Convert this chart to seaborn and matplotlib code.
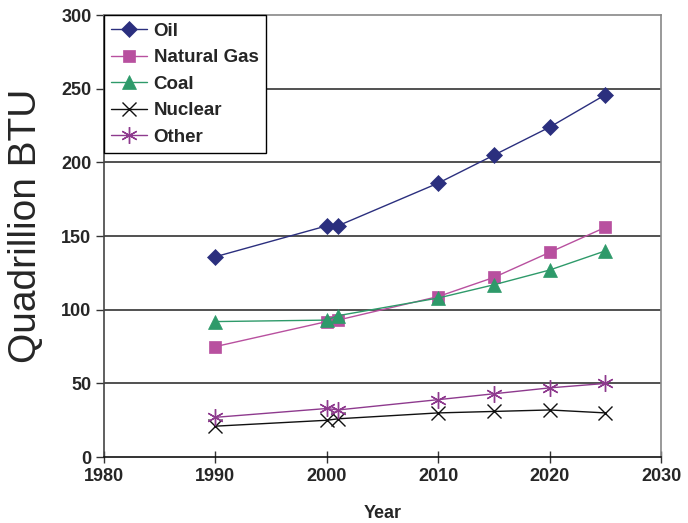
import matplotlib
matplotlib.use("Agg")
import matplotlib.pyplot as plt
import seaborn as sns
import pandas as pd

years = [1990, 2000, 2001, 2010, 2015, 2020, 2025]
oil = [136, 157, 157, 186, 205, 224, 246]
natural_gas = [75, 92, 93, 109, 122, 139, 156]
coal = [92, 93, 96, 108, 117, 127, 140]
nuclear = [21, 25, 26, 30, 31, 32, 30]
other = [27, 33, 32, 39, 43, 47, 50]

series = ["Oil", "Natural Gas", "Coal", "Nuclear", "Other"]
values = [oil, natural_gas, coal, nuclear, other]

colors = ["#2B2F7E", "#B8509F", "#2E9A6A", "#111111", "#8E3A8E"]
markers = ["D", "s", "^", "x", (6, 2, 0)]
msizes = [8, 9, 10, 10, 12]

sns.set_style("white")
plt.rcParams["font.family"] = ["Liberation Sans", "DejaVu Sans"]

fig = plt.figure(figsize=(6.88, 5.23), dpi=100)
ax = fig.add_axes([0.151, 0.126, 0.81, 0.845])

for name, vals, c, m, ms in zip(series, values, colors, markers, msizes):
    df = pd.DataFrame({"Year": years, "BTU": vals})
    sns.lineplot(data=df, x="Year", y="BTU", ax=ax, color=c, marker=m,
                 markersize=ms, markeredgecolor=c, markerfacecolor=c,
                 markeredgewidth=1.0 if m in ("x",) or isinstance(m, tuple) else 0.5,
                 linewidth=1.0, label=name, zorder=3)

ax.set_xlim(1980, 2030)
ax.set_ylim(0, 300)
ax.set_xticks(range(1980, 2031, 10))
ax.set_yticks(range(0, 301, 50))
for y in range(50, 300, 50):
    ax.axhline(y, color="#222222", linewidth=1.1, zorder=1)

tick_font = dict(family=["Liberation Sans Narrow", "Liberation Sans"], weight="bold", size=13)
for lab in ax.get_xticklabels() + ax.get_yticklabels():
    lab.set_fontproperties(matplotlib.font_manager.FontProperties(**tick_font))
ax.tick_params(axis="x", direction="inout", length=8, width=1, color="#333333", pad=4)
ax.tick_params(axis="y", direction="out", length=6, width=1, color="#333333", pad=3, left=True)
ax.tick_params(axis="x", bottom=True)

ax.set_xlabel("Year", fontsize=13, fontweight="bold",
              family=["Liberation Sans Narrow", "Liberation Sans"], labelpad=14)
ax.set_ylabel("Quadrillion BTU", fontsize=28)
ax.yaxis.set_label_coords(-0.108, 0.523)

for side, col in [("left", "#444444"), ("bottom", "#111111"), ("top", "#888888"), ("right", "#888888")]:
    ax.spines[side].set_visible(True)
    ax.spines[side].set_color(col)
    ax.spines[side].set_linewidth(1.2)

leg = ax.legend(loc="upper left", borderaxespad=0, fancybox=False, frameon=True,
                edgecolor="black", framealpha=1,
                prop=dict(family="Liberation Sans", weight="bold", size=13.5),
                handlelength=1.9, handletextpad=0.35, labelspacing=0.5,
                borderpad=0.4)
leg.get_frame().set_linewidth(1.0)
leg.set_zorder(5)

fig.savefig("out.png", dpi=100)
